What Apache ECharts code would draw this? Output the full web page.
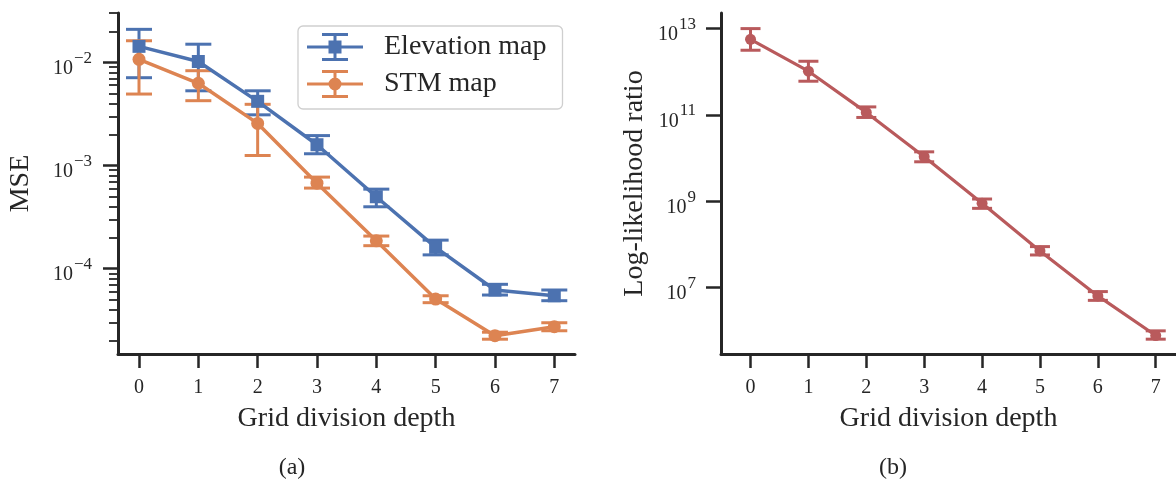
<!DOCTYPE html>
<html><head><meta charset="utf-8">
<script src="https://cdn.jsdelivr.net/npm/echarts@6/dist/echarts.min.js"></script>
<style>html,body{margin:0;padding:0;background:#fff}#c{width:1176px;height:481px}</style>
</head><body><div id="c"></div>
<script>
// ---------- data ----------
const depth = [0, 1, 2, 3, 4, 5, 6, 7];
const seriesNames = ['Elevation map', 'STM map'];
const elevMean = [0.0143, 0.0102, 0.00419, 0.00159, 4.98e-4, 1.61e-4, 6.21e-5, 5.46e-5];
const elevLow  = [0.0071, 0.0053, 0.0031, 0.00130, 3.98e-4, 1.36e-4, 5.55e-5, 4.89e-5];
const elevHigh = [0.0209, 0.0150, 0.0053, 0.00195, 5.90e-4, 1.89e-4, 7.05e-5, 6.21e-5];
const stmMean  = [0.0107, 0.00627, 0.00256, 6.74e-4, 1.86e-4, 5.07e-5, 2.24e-5, 2.74e-5];
const stmLow   = [0.00493, 0.00425, 0.00125, 6.04e-4, 1.67e-4, 4.68e-5, 2.07e-5, 2.50e-5];
const stmHigh  = [0.0162, 0.0083, 0.00392, 7.72e-4, 2.07e-4, 5.46e-5, 2.42e-5, 2.99e-5];
const llrMean  = [5.65e12, 1.03e12, 1.14e11, 1.07e10, 8.9e8, 7.0e7, 6.35e6, 7.66e5];
const llrLow   = [3.15e12, 6.03e11, 8.71e10, 8.17e9, 6.81e8, 5.65e7, 5.01e6, 6.31e5];
const llrHigh  = [1.0e13, 1.75e12, 1.53e11, 1.39e10, 1.12e9, 8.83e7, 8.0e6, 9.84e5];
const xTicks = [0, 1, 2, 3, 4, 5, 6, 7];
const leftMajorTicks = [1e-4, 1e-3, 1e-2];
const rightMajorTicks = [1e7, 1e9, 1e11, 1e13];
const xTitle = 'Grid division depth';
const leftYTitle = 'MSE';
const rightYTitle = 'Log-likelihood ratio';
const captions = ['(a)', '(b)'];

// ---------- styling ----------
const FONT = '"Liberation Serif", "Times New Roman", serif';
const INK = '#262626';
const BLUE = '#4C72B0', ORANGE = '#DD8452', RED = '#B95A5C';
const LEFT_MIN = 1.488e-5, LEFT_MAX = 0.0301;
const RIGHT_MIN = 2.86e5, RIGHT_MAX = 2.30e13;

// minor tick positions (2..9 x 10^n) for the left log axis
const leftMinorTicks = [];
for (let n = -5; n <= -2; n++) for (let k = 2; k <= 9; k++) {
  const v = +(k * Math.pow(10, n)).toPrecision(6);
  if (v >= LEFT_MIN && v <= LEFT_MAX) leftMinorTicks.push(v);
}

function supLabel(v) {
  const e = Math.round(Math.log10(v));
  return '{b|10}{s|' + (e < 0 ? '\u2212' + (-e) : e) + '}';
}
const supRich = {
  b: { fontFamily: FONT, fontSize: 20, color: INK, lineHeight: 29, verticalAlign: 'bottom' },
  s: { fontFamily: FONT, fontSize: 17, color: INK, lineHeight: 17, verticalAlign: 'top', padding: [0, 0, 0, 1] }
};

function errRender(capHalf, color, lw) {
  return function (params, api) {
    const x = api.value(0), lo = api.value(1), hi = api.value(2);
    const a = api.coord([x, lo]), b = api.coord([x, hi]);
    const st = { stroke: color, lineWidth: lw, fill: null };
    return { type: 'group', children: [
      { type: 'line', shape: { x1: a[0], y1: a[1], x2: b[0], y2: b[1] }, style: st },
      { type: 'line', shape: { x1: a[0] - capHalf, y1: a[1], x2: a[0] + capHalf, y2: a[1] }, style: st },
      { type: 'line', shape: { x1: b[0] - capHalf, y1: b[1], x2: b[0] + capHalf, y2: b[1] }, style: st }
    ]};
  };
}

const xAxisCommon = {
  type: 'value', splitLine: { show: false },
  axisLine: { show: true, onZero: false, lineStyle: { color: INK, width: 3 } },
  axisTick: { show: true, length: 14, lineStyle: { color: INK, width: 2.5 }, customValues: xTicks },
  axisLabel: { fontFamily: FONT, fontSize: 20, color: INK, margin: 24, customValues: xTicks },
  name: xTitle, nameLocation: 'middle', nameGap: 51,
  nameTextStyle: { fontFamily: FONT, fontSize: 28, color: INK }
};

const iconSquare = 'path://M0 12.5H56V15.5H0Z M26.5 0H29.5V28H26.5Z M15 0H41V3H15Z M15 25H41V28H15Z M21.5 7.5H34.5V20.5H21.5Z';
const iconCircle = 'path://M0 12.5H56V15.5H0Z M26.5 0H29.5V28H26.5Z M15 0H41V3H15Z M15 25H41V28H15Z M34.5 14A6.5 6.5 0 1 1 21.5 14A6.5 6.5 0 1 1 34.5 14Z';

const pairs = (a, b) => depth.map((d, i) => (b ? [d, a[i], b[i]] : [d, a[i]]));

const yLabelCommon = { formatter: supLabel, rich: supRich, padding: [4, 0, 0, 0] };

const option = {
  animation: false,
  backgroundColor: '#fff',
  grid: [
    { left: 118, top: 13, width: 457, height: 341 },
    { left: 721, top: 13, width: 455, height: 341 }
  ],
  xAxis: [
    Object.assign({}, xAxisCommon, { gridIndex: 0, min: -0.354, max: 7.349 }),
    Object.assign({}, xAxisCommon, { gridIndex: 1, min: -0.51, max: 7.35 })
  ],
  yAxis: [
    { type: 'log', gridIndex: 0, position: 'left', min: LEFT_MIN, max: LEFT_MAX, splitLine: { show: false },
      axisLine: { show: true, onZero: false, lineStyle: { color: INK, width: 3 } },
      axisTick: { show: true, length: 15, lineStyle: { color: INK, width: 2.5 }, customValues: leftMajorTicks },
      axisLabel: Object.assign({ margin: 26, customValues: leftMajorTicks }, yLabelCommon),
      name: leftYTitle, nameLocation: 'middle', nameGap: 83,
      nameTextStyle: { fontFamily: FONT, fontSize: 28, color: INK } },
    { type: 'log', gridIndex: 0, position: 'left', offset: 0, min: LEFT_MIN, max: LEFT_MAX, splitLine: { show: false },
      axisLine: { show: false, onZero: false },
      axisTick: { show: true, length: 9, lineStyle: { color: INK, width: 1.8 }, customValues: leftMinorTicks },
      axisLabel: { show: false } },
    { type: 'log', gridIndex: 1, position: 'left', min: RIGHT_MIN, max: RIGHT_MAX, splitLine: { show: false },
      axisLine: { show: true, onZero: false, lineStyle: { color: INK, width: 3 } },
      axisTick: { show: true, length: 15, lineStyle: { color: INK, width: 2.5 }, customValues: rightMajorTicks },
      axisLabel: Object.assign({ margin: 25, customValues: rightMajorTicks }, yLabelCommon),
      name: rightYTitle, nameLocation: 'middle', nameGap: 72,
      nameTextStyle: { fontFamily: FONT, fontSize: 28, color: INK } }
  ],
  legend: {
    orient: 'vertical', left: 298, top: 26,
    padding: [7, 16, 11, 9], itemGap: 9, itemWidth: 56, itemHeight: 28,
    borderColor: '#cfcfcf', borderWidth: 1.3, borderRadius: 5, backgroundColor: 'rgba(255,255,255,0.8)',
    textStyle: { fontFamily: FONT, fontSize: 28, color: INK, lineHeight: 28, padding: [0, 0, 0, 16] },
    itemStyle: { borderWidth: 0 },
    data: [ { name: seriesNames[0], icon: iconSquare }, { name: seriesNames[1], icon: iconCircle } ]
  },
  graphic: [
    { type: 'text', x: 292, y: 468, style: { text: captions[0], font: '24px ' + FONT, fill: INK, align: 'center', verticalAlign: 'middle' } },
    { type: 'text', x: 893, y: 468, style: { text: captions[1], font: '24px ' + FONT, fill: INK, align: 'center', verticalAlign: 'middle' } }
  ],
  series: [
    { type: 'custom', name: seriesNames[0] + ' err', xAxisIndex: 0, yAxisIndex: 0, z: 1,
      renderItem: errRender(13, BLUE, 3), encode: { x: 0, y: [1, 2] }, data: pairs(elevLow, elevHigh) },
    { type: 'line', name: seriesNames[0], xAxisIndex: 0, yAxisIndex: 0, z: 3,
      symbol: 'rect', symbolSize: 13, color: BLUE, lineStyle: { width: 3.5, color: BLUE },
      itemStyle: { color: BLUE }, data: pairs(elevMean) },
    { type: 'custom', name: seriesNames[1] + ' err', xAxisIndex: 0, yAxisIndex: 0, z: 2,
      renderItem: errRender(13, ORANGE, 3), encode: { x: 0, y: [1, 2] }, data: pairs(stmLow, stmHigh) },
    { type: 'line', name: seriesNames[1], xAxisIndex: 0, yAxisIndex: 0, z: 4,
      symbol: 'circle', symbolSize: 13, color: ORANGE, lineStyle: { width: 3.5, color: ORANGE },
      itemStyle: { color: ORANGE }, data: pairs(stmMean) },
    { type: 'custom', name: 'LLR err', xAxisIndex: 1, yAxisIndex: 2, z: 1,
      renderItem: errRender(10, RED, 3), encode: { x: 0, y: [1, 2] }, data: pairs(llrLow, llrHigh) },
    { type: 'line', name: 'LLR', xAxisIndex: 1, yAxisIndex: 2, z: 3,
      symbol: 'circle', symbolSize: 11, color: RED, lineStyle: { width: 3.2, color: RED },
      itemStyle: { color: RED }, data: pairs(llrMean) }
  ]
};

const chart = echarts.init(document.getElementById('c'), null, { renderer: 'canvas' });
chart.setOption(option);
</script>
</body></html>
